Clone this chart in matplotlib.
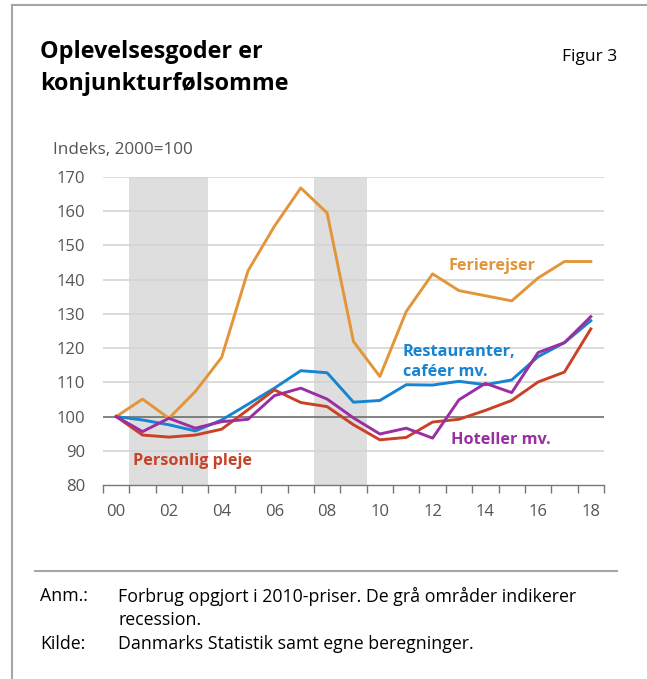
import matplotlib
matplotlib.use("Agg")
import matplotlib.pyplot as plt
from matplotlib.lines import Line2D

plt.rcParams['font.family'] = ['Open Sans', 'DejaVu Sans']

years = list(range(0, 19))
tick_years = list(range(0, 19, 2))
tick_labels = ['00', '02', '04', '06', '08', '10', '12', '14', '16', '18']

ferierejser = [100, 105.1, 99.5, 107.3, 117.3, 142.6, 155.6, 166.8, 159.5, 121.9,
               111.7, 130.7, 141.7, 136.8, 135.3, 133.8, 140.5, 145.3, 145.3]
restauranter = [100, 99.0, 97.6, 95.8, 99.0, 103.6, 108.3, 113.4, 112.8, 104.2,
                104.7, 109.3, 109.2, 110.3, 109.3, 110.7, 117.5, 121.6, 128.0]
hoteller = [100, 95.6, 99.5, 96.6, 98.5, 99.2, 106.1, 108.3, 105.1, 99.6,
            94.9, 96.6, 93.7, 104.9, 109.7, 107.0, 118.7, 121.6, 129.2]
pleje = [100, 94.6, 94.0, 94.6, 96.3, 102.0, 107.8, 104.1, 102.9, 97.6,
         93.2, 93.9, 98.4, 99.2, 101.8, 104.7, 110.1, 113.0, 125.6]

recessions = [(0.5, 3.5), (7.5, 9.5)]

C_ORANGE = '#E3953A'
C_BLUE = '#1684D2'
C_PURPLE = '#9A2EA3'
C_RED = '#C94127'
GRAY_TXT = '#555555'

fig = plt.figure(figsize=(6.47, 6.79), dpi=100)
ax = fig.add_axes([103 / 647, 1 - 485 / 679, 501 / 647, 308 / 679])

for a, b in recessions:
    ax.axvspan(a, b, color='#dedede', lw=0, zorder=0)

for yv in range(90, 171, 10):
    if yv != 100:
        ax.axhline(yv, color='#d4d4d4', lw=1.2, zorder=1)
ax.axhline(100, color='#6e6e6e', lw=1.2, zorder=2)

ax.plot(years, ferierejser, color=C_ORANGE, lw=2.1, zorder=3)
ax.plot(years, restauranter, color=C_BLUE, lw=2.1, zorder=3)
ax.plot(years, hoteller, color=C_PURPLE, lw=2.1, zorder=4)
ax.plot(years, pleje, color=C_RED, lw=2.1, zorder=3)

lab = dict(fontsize=11.7, fontweight='bold', va='center')
ax.text(12.6, 144.1, 'Ferierejser', color=C_ORANGE, **lab)
ax.text(10.87, 118.9, 'Restauranter,', color=C_BLUE, **lab)
ax.text(10.87, 113.1, 'caféer mv.', color=C_BLUE, **lab)
ax.text(12.7, 93.2, 'Hoteller mv.', color=C_PURPLE, **lab)
ax.text(0.65, 87.0, 'Personlig pleje', color=C_RED, **lab)

ax.set_xlim(-0.5, 18.5)
ax.set_ylim(80, 170)
ax.set_xticks(tick_years)
ax.set_xticklabels(tick_labels)
ax.set_xticks([y + 0.5 for y in range(-1, 19)], minor=True)
ax.set_yticks(range(80, 171, 10))
ax.tick_params(axis='x', which='major', length=0, pad=14, labelsize=12, labelcolor=GRAY_TXT)
ax.tick_params(axis='x', which='minor', length=6, width=1, color='#777777')
ax.tick_params(axis='y', length=0, pad=13, labelsize=12, labelcolor=GRAY_TXT)
for s in ['top', 'right', 'left']:
    ax.spines[s].set_visible(False)
ax.spines['bottom'].set_color('#777777')
ax.spines['bottom'].set_linewidth(1)

fig.text(53 / 647, 1 - 150 / 679, 'Indeks, 2000=100', fontsize=12.3, color=GRAY_TXT, va='center')

fig.text(40 / 647, 1 - 52 / 679, 'Oplevelsesgoder er', fontsize=16.8, fontweight='bold', va='center')
fig.text(40 / 647, 1 - 84 / 679, 'konjunkturfølsomme', fontsize=16.8, fontweight='bold', va='center')
fig.text(617 / 647, 1 - 57 / 679, 'Figur 3', fontsize=12.5, ha='right', va='center')

# frame and footer line
fig.add_artist(Line2D([12 / 647, 12 / 647], [0, 1 - 5 / 679], transform=fig.transFigure, color='#a6a6a6', lw=1.5))
fig.add_artist(Line2D([12 / 647, 1], [1 - 5 / 679, 1 - 5 / 679], transform=fig.transFigure, color='#a6a6a6', lw=1.5))
fig.add_artist(Line2D([35 / 647, 617 / 647], [1 - 571 / 679, 1 - 571 / 679], transform=fig.transFigure, color='#a6a6a6', lw=1.5))

foot = dict(fontsize=12.8, va='center')
fig.text(40 / 647, 1 - 596 / 679, 'Anm.:', **foot)
fig.text(118 / 647, 1 - 596 / 679, 'Forbrug opgjort i 2010-priser. De grå områder indikerer', **foot)
fig.text(118 / 647, 1 - 620 / 679, 'recession.', **foot)
fig.text(40 / 647, 1 - 644 / 679, 'Kilde:', **foot)
fig.text(118 / 647, 1 - 644 / 679, 'Danmarks Statistik samt egne beregninger.', **foot)

fig.savefig('out.png', dpi=100)
